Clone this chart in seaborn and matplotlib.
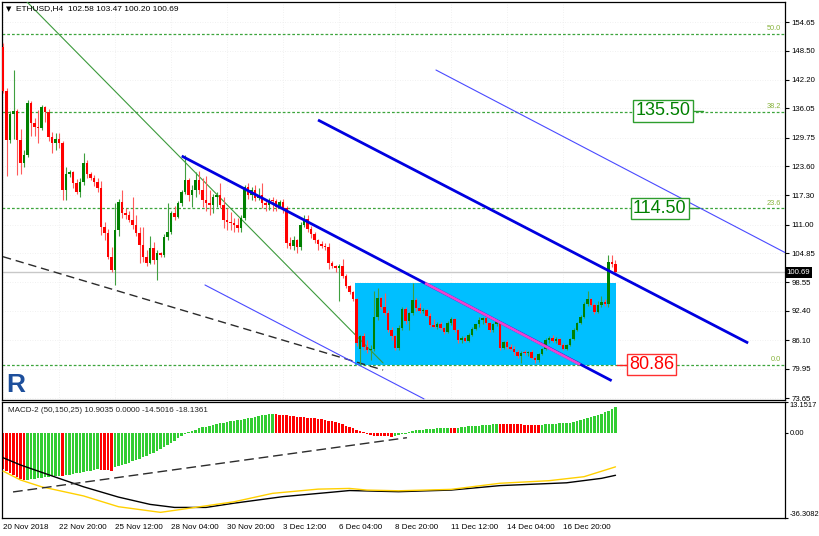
import numpy as np
import pandas as pd
import matplotlib
matplotlib.use("Agg")
import matplotlib.pyplot as plt
from matplotlib.patches import Rectangle
import seaborn as sns

W, H = 820, 536

# ETHUSD H4 candles, first bar 20 Nov 2018 04:00
opens = [
    149.3, 139.8, 129.3, 134.8, 135.5, 129.3, 124.2, 126.0, 137.1, 132.8,
    132.0, 131.8, 136.4, 135.3, 129.9, 128.5, 129.5, 128.6, 118.5, 122.0,
    122.3, 120.0, 118.1, 120.2, 124.2, 122.0, 121.0, 120.2, 118.8, 110.5,
    109.1, 104.1, 101.2, 109.8, 115.9, 113.4, 113.0, 112.0, 110.9, 109.1,
    106.6, 104.1, 102.7, 105.9, 103.4, 104.8, 104.4, 108.4, 109.5, 113.4,
    112.7, 115.6, 118.1, 120.6, 117.4, 118.5, 120.6, 118.5, 116.3, 115.6,
    115.2, 117.0, 117.4, 115.2, 112.0, 111.6, 111.3, 110.9, 110.2, 112.4,
    119.2, 117.4, 118.5, 116.7, 117.3, 115.6, 115.2, 116.3, 116.0, 114.9,
    115.9, 114.5, 107.0, 106.5, 107.6, 106.2, 111.0, 112.2, 110.0, 109.0,
    107.6, 106.8, 106.5, 106.2, 102.7, 102.0, 101.6, 102.0, 99.9, 97.8,
    96.5, 95.0, 84.3, 86.9, 84.7, 83.9, 84.3, 91.2, 95.1, 93.3,
    91.9, 88.3, 86.9, 84.4, 88.7, 92.9, 90.3, 91.9, 94.8, 93.0,
    92.3, 92.6, 91.4, 89.4, 89.0, 89.7, 88.7, 87.9, 89.8, 90.6,
    88.3, 86.1, 86.6, 86.0, 87.3, 88.6, 89.5, 90.4, 90.8, 89.8,
    88.2, 89.5, 90.0, 84.5, 85.7, 84.6, 84.3, 83.5, 82.6, 83.4,
    83.3, 83.6, 82.3, 81.8, 83.2, 84.2, 86.2, 86.6, 86.0, 86.3,
    85.1, 84.3, 85.0, 86.4, 88.4, 89.8, 91.2, 93.9, 94.9, 93.7,
    92.2, 93.7, 94.4, 93.8, 103.0, 102.58]
highs = [
    150.2, 140.5, 135.5, 144.3, 136.0, 131.5, 127.0, 137.8, 137.6, 134.0,
    135.7, 136.8, 136.6, 136.0, 131.0, 130.7, 130.8, 129.0, 123.5, 122.8,
    122.6, 120.8, 121.0, 126.4, 125.0, 122.4, 121.7, 121.0, 120.5, 111.6,
    110.0, 106.2, 115.6, 116.6, 118.4, 114.5, 114.0, 117.0, 113.0, 110.5,
    110.5, 105.5, 108.5, 107.3, 105.5, 105.2, 109.0, 115.6, 114.0, 115.0,
    116.0, 118.5, 126.0, 121.0, 119.5, 122.4, 122.5, 121.0, 121.5, 118.5,
    117.5, 118.1, 120.0, 117.0, 114.5, 113.8, 112.5, 112.4, 113.1, 119.5,
    120.0, 119.2, 119.5, 118.8, 119.9, 116.5, 116.8, 117.0, 116.5, 116.4,
    116.5, 115.0, 108.4, 108.5, 108.0, 111.5, 113.0, 113.0, 110.8, 109.4,
    108.0, 107.4, 107.0, 107.0, 103.2, 102.4, 102.5, 103.5, 100.3, 98.0,
    96.8, 95.3, 87.3, 87.6, 86.2, 85.0, 96.6, 97.3, 95.5, 96.2,
    92.6, 89.0, 87.2, 89.4, 93.3, 93.2, 92.2, 98.4, 95.2, 94.1,
    93.0, 92.9, 91.9, 90.6, 90.1, 90.0, 88.9, 90.2, 91.0, 90.9,
    88.6, 86.9, 87.1, 87.6, 88.9, 89.7, 91.2, 91.0, 91.2, 90.0,
    89.8, 90.3, 90.3, 85.9, 86.2, 85.2, 84.8, 84.0, 83.8, 84.0,
    83.8, 83.9, 82.8, 83.4, 84.4, 86.6, 87.0, 87.2, 86.7, 86.5,
    85.4, 85.2, 86.6, 88.7, 90.1, 91.5, 94.3, 96.6, 95.3, 94.1,
    94.5, 95.6, 95.0, 104.5, 104.5, 103.47]
lows = [
    139.3, 121.5, 128.5, 129.5, 121.7, 122.0, 123.5, 125.5, 130.0, 130.0,
    128.5, 131.3, 133.2, 129.0, 126.4, 127.0, 127.6, 116.3, 116.3, 121.3,
    118.8, 117.5, 117.0, 119.5, 121.0, 120.6, 119.3, 118.0, 108.8, 107.7,
    103.5, 100.8, 98.0, 108.5, 112.5, 112.2, 111.5, 110.0, 108.6, 102.7,
    103.0, 102.0, 102.5, 102.5, 99.1, 104.0, 104.0, 107.7, 109.0, 112.0,
    112.5, 115.0, 117.5, 116.0, 114.8, 117.0, 117.5, 114.9, 114.0, 113.1,
    113.5, 114.8, 114.5, 110.2, 109.8, 109.8, 109.5, 109.5, 109.5, 112.0,
    116.5, 116.3, 116.0, 116.3, 114.5, 114.0, 114.2, 114.0, 114.0, 114.5,
    113.5, 106.0, 105.8, 105.5, 104.8, 105.6, 110.5, 109.5, 108.2, 107.0,
    105.5, 106.0, 105.6, 101.5, 101.6, 100.8, 94.5, 99.5, 97.3, 96.0,
    94.5, 84.8, 80.86, 84.0, 83.4, 81.8, 83.8, 90.5, 92.8, 91.5,
    87.9, 86.1, 84.0, 84.0, 88.2, 89.7, 88.3, 91.5, 92.5, 91.9,
    91.9, 91.0, 88.9, 88.7, 88.6, 88.3, 87.5, 87.6, 89.3, 87.9,
    85.4, 85.5, 85.7, 85.8, 87.0, 88.2, 89.0, 89.6, 89.4, 87.8,
    87.9, 89.1, 84.0, 84.1, 84.3, 84.0, 83.0, 82.2, 81.1, 82.9,
    82.8, 82.0, 81.1, 81.5, 82.9, 83.9, 85.6, 85.8, 85.4, 84.9,
    84.0, 84.0, 84.8, 86.1, 88.0, 89.5, 90.8, 93.5, 93.4, 91.8,
    91.9, 93.3, 93.5, 93.3, 101.8, 100.20]
closes = [
    139.8, 129.3, 134.8, 135.5, 129.3, 124.2, 126.0, 137.1, 132.8, 132.0,
    131.8, 136.4, 135.3, 129.9, 128.5, 129.5, 128.6, 118.5, 122.0, 122.3,
    120.0, 118.1, 120.2, 124.2, 122.0, 121.0, 120.2, 118.8, 110.5, 109.1,
    104.1, 101.2, 109.8, 115.9, 113.4, 113.0, 112.0, 110.9, 109.1, 106.6,
    104.1, 102.7, 105.9, 103.4, 104.8, 104.4, 108.4, 109.5, 113.4, 112.7,
    115.6, 118.1, 120.6, 117.4, 118.5, 120.6, 118.5, 116.3, 115.6, 115.2,
    117.0, 117.4, 115.2, 112.0, 111.6, 111.3, 110.9, 110.2, 112.4, 119.2,
    117.4, 118.5, 116.7, 117.3, 115.6, 115.2, 116.3, 116.0, 114.9, 115.9,
    114.5, 107.0, 106.5, 107.6, 106.2, 111.0, 112.2, 110.0, 109.0, 107.6,
    106.8, 106.5, 106.2, 102.7, 102.0, 101.6, 102.0, 99.9, 97.8, 96.5,
    95.0, 85.4, 86.9, 84.7, 83.9, 84.3, 91.2, 95.1, 93.3, 91.9,
    88.3, 86.9, 84.4, 88.7, 92.9, 90.3, 91.9, 94.8, 93.0, 92.3,
    92.6, 91.4, 89.4, 89.0, 89.7, 88.7, 87.9, 89.8, 90.6, 88.3,
    86.1, 86.6, 86.0, 87.3, 88.6, 89.5, 90.4, 90.8, 89.8, 88.2,
    89.5, 90.0, 84.5, 85.7, 84.6, 84.3, 83.5, 82.6, 83.4, 83.3,
    83.6, 82.3, 81.8, 83.2, 84.2, 86.2, 86.6, 86.0, 86.3, 85.1,
    84.3, 85.0, 86.4, 88.4, 89.8, 91.2, 93.9, 94.9, 93.7, 92.2,
    93.7, 94.4, 93.8, 103.0, 102.58, 100.69]

# MACD-2 (50,150,25)
macd_hist = [
    -15.6, -16.4, -17.2, -18.0, -18.8, -19.5, -20.2, -20.0, -19.8, -19.6,
    -19.4, -19.2, -19.0, -18.8, -18.6, -18.4, -18.2, -18.3, -18.0, -17.8,
    -17.6, -17.3, -17.0, -16.7, -16.4, -16.1, -15.8, -15.5, -15.7, -15.9,
    -16.0, -16.1, -14.6, -14.1, -13.7, -13.2, -12.7, -12.2, -11.6, -11.0,
    -10.4, -9.8, -9.2, -8.5, -7.8, -7.0, -6.2, -5.3, -4.3, -3.3,
    -2.2, -1.2, -0.5, 0.2, 0.8, 1.4, 1.9, 2.3, 2.7, 3.0,
    3.4, 3.7, 4.0, 4.3, 4.6, 4.9, 5.1, 5.3, 5.6, 5.9,
    6.2, 6.5, 6.8, 7.1, 7.4, 7.7, 8.0, 8.2, 8.0, 7.8,
    7.6, 7.4, 7.2, 7.0, 6.8, 6.7, 6.6, 6.5, 6.35, 6.2,
    6.0, 5.8, 5.5, 5.2, 4.9, 4.5, 4.1, 3.6, 3.1, 2.6,
    2.0, 1.4, 0.8, 0.2, -0.5, -1.0, -1.3, -1.4, -1.45, -1.5,
    -1.55, -1.6, -1.2, -0.8, -0.5, -0.3, 0.2, 0.6, 1.0, 1.2,
    1.4, 1.6, 1.7, 1.8, 1.9, 2.0, 2.05, 2.1, 2.05, 2.0,
    2.2, 2.4, 2.6, 2.8, 2.9, 3.0, 3.1, 3.3, 3.4, 3.5,
    3.7, 3.8, 3.78, 3.75, 3.72, 3.68, 3.64, 3.6, 3.56, 3.52,
    3.48, 3.44, 3.4, 3.36, 3.45, 3.6, 3.7, 3.8, 3.95, 4.1,
    4.2, 4.3, 4.4, 4.5, 4.9, 5.3, 5.9, 6.4, 6.8, 7.3,
    7.7, 8.2, 8.8, 9.4, 10.2, 10.9]
macd_idx = [0, 5, 11, 23, 33, 45, 53, 66, 77, 90, 99, 104, 113, 128, 142, 156, 166, 175]
macd_val = [-16.3, -20.1, -23.0, -26.9, -31.5, -33.9, -32.2, -29.4, -25.8, -24.0,
            -23.7, -24.4, -24.7, -24.1, -21.5, -20.4, -18.7, -14.5]
signal_idx = [0, 5, 16, 23, 33, 42, 49, 58, 66, 80, 94, 99, 113, 128, 142, 161, 171, 175]
signal_val = [-10.6, -13.7, -19.4, -23.0, -27.4, -30.5, -31.8, -31.8, -30.0, -27.2,
              -25.3, -24.6, -25.1, -24.4, -22.5, -21.3, -19.4, -18.1]
macd_readout = [10.9035, 0.0000, -14.5016, -18.1361]

time_ticks = [0, 16, 32, 48, 64, 80, 96, 112, 128, 144, 160]
time_labels = ["20 Nov 2018", "22 Nov 20:00", "25 Nov 12:00", "28 Nov 04:00",
               "30 Nov 20:00", "3 Dec 12:00", "6 Dec 04:00", "8 Dec 20:00",
               "11 Dec 12:00", "14 Dec 04:00", "16 Dec 20:00"]
price_ticks = [154.65, 148.50, 142.20, 136.05, 129.75, 123.60, 117.30,
               111.00, 104.85, 98.55, 92.40, 86.10, 79.95, 73.65]
macd_ticks = [13.1517, 0.0, -36.3082]
macd_tick_labels = ["13.1517", "0.00", "-36.3082"]

# drawn objects: (bar index, price)
channel_main = [(51.06, 125.78), (173.9, 77.38)]
channel_upper = [(90.0, 133.54), (212.9, 85.5)]
channel_far_upper = [(123.7, 144.31), (223.4, 105.0)]
channel_far_lower = [(57.7, 98.0), (120.3, 73.45)]
pink_segment = [(120.6, 98.4), (164.9, 80.86)]
green_line = [(6.3, 159.4), (108.6, 81.19)]
dashed_trend = [(0.0, 104.09), (108.6, 79.68)]
macd_trend = [(2.86, -25.2), (115.4, -2.07)]
range_box = (101, 175, 80.86, 98.4)
fibo_levels = [152.13, 135.31, 114.5, 80.86]
fibo_labels = ["50.0", "38.2", "23.6", "0.0"]
targets = [(188.6, 135.50), (187.6, 114.50)]
stop_level = (185.3, 80.86)

sns.set_theme(style="white")
plt.rcParams["font.family"] = ["Liberation Sans", "DejaVu Sans"]

bars = pd.DataFrame({"open": opens, "high": highs, "low": lows, "close": closes})
bars["i"] = np.arange(len(bars))
up = bars["close"] >= bars["open"]

fig = plt.figure(figsize=(W / 100, H / 100), dpi=100)
ax = fig.add_axes([2 / W, 1 - 400 / H, 783 / W, 398 / H])
axm = fig.add_axes([2 / W, 1 - 518 / H, 783 / W, 116 / H])


def seg(a, pts, **kw):
    a.plot([pts[0][0], pts[1][0]], [pts[0][1], pts[1][1]], **kw)


# faint grid
for t in time_ticks:
    ax.axvline(t, color="#ececec", lw=0.6, ls=(0, (1, 2)), zorder=0)
for p in price_ticks:
    ax.axhline(p, color="#ececec", lw=0.6, ls=(0, (1, 2)), zorder=0)

x0, x1, b0, b1 = range_box
ax.add_patch(Rectangle((x0 - 0.3, b0), x1 - x0 + 0.5, b1 - b0, color="#00bfff", lw=0, zorder=1))

for lvl, lab in zip(fibo_levels, fibo_labels):
    ax.axhline(lvl, color="#3da53d", lw=0.9, ls=(0, (2.2, 1.6)), zorder=2)
    ax.text(222.4, lvl + 0.4, lab, ha="right", va="bottom", fontsize=5.3, color="#86b23a", zorder=2)

ax.axhline(closes[-1], color="#c8c8c8", lw=1.0, zorder=2)

seg(ax, dashed_trend, color="#2b2b2b", lw=1.0, ls=(0, (6, 3.5)), zorder=3)
seg(ax, green_line, color="#3c9a3c", lw=0.8, zorder=3)
seg(ax, channel_far_lower, color="#4a4aff", lw=0.8, zorder=3)
seg(ax, channel_far_upper, color="#4a4aff", lw=0.8, zorder=3)

# candles
wick_col = np.where(up, "#3f9f3f", "#ff5a5a")
body_col = np.where(up, "#008000", "#ff0000")
ax.vlines(bars["i"], bars["low"], bars["high"], colors=wick_col, lw=0.8, zorder=4)
body_lo = np.minimum(bars["open"], bars["close"])
body_h = (bars["close"] - bars["open"]).abs().clip(lower=0.2)
ax.bar(bars["i"], body_h, bottom=body_lo, width=0.6, color=body_col, lw=0, zorder=5)

seg(ax, channel_main, color="#0000e0", lw=2.0, zorder=6, solid_capstyle="butt")
seg(ax, channel_upper, color="#0000e0", lw=2.0, zorder=6, solid_capstyle="butt")
seg(ax, pink_segment, color="#ee44cc", lw=2.0, zorder=7, solid_capstyle="butt")

# price labels
for xi, price in targets:
    ax.plot([xi + 8, xi + 11.3], [price, price], color="#2e9e2e", lw=1.0, zorder=8)
    ax.text(xi, price, f"{price:.2f}", ha="center", va="center", fontsize=13, color="#008000", zorder=9,
            bbox=dict(boxstyle="square,pad=0.12", fc="white", ec="#2e9e2e", lw=1.0))
sx, sp = stop_level
ax.plot([175.4, sx - 6], [sp, sp], color="#ff2020", lw=1.0, zorder=8)
ax.text(sx, sp, f"{sp:.2f}", ha="center", va="center", fontsize=13, color="#ff0000", zorder=9,
        bbox=dict(boxstyle="square,pad=0.12", fc="white", ec="#ff3030", lw=1.0))

ax.set_xlim(-0.29, 223.43)
ax.set_ylim(73.22, 158.96)
ax.set_xticks([])
ax.yaxis.tick_right()
ax.set_yticks(price_ticks)
ax.set_yticklabels([f"{p:.2f}" for p in price_ticks], fontsize=5.6)
ax.tick_params(axis="y", direction="out", length=3, width=0.8, pad=1.5, colors="black")
for s in ax.spines.values():
    s.set_color("black")
    s.set_linewidth(0.9)

# current price tag
ax.text(1.002, closes[-1], f"{closes[-1]:.2f}", transform=ax.get_yaxis_transform(), ha="left", va="center",
        fontsize=5.6, color="white", zorder=10, clip_on=False,
        bbox=dict(boxstyle="square,pad=0.25", fc="black", ec="black", lw=0))

last = bars.iloc[-1]
fig.text(6 / W, 1 - 9 / H, "\u25bc", fontsize=5, va="center", ha="left", color="black",
         family=["DejaVu Sans"])
fig.text(16 / W, 1 - 9 / H,
         f"ETHUSD,H4  {last['open']:.2f} {last['high']:.2f} {last['low']:.2f} {last['close']:.2f}",
         fontsize=6, va="center", ha="left", color="black")

# logo
fig.text(6 / W, 1 - 385 / H, "R", fontsize=19, fontweight="bold", color="#1d4f9c", va="center", ha="left")

# MACD panel
hist = np.array(macd_hist)
rising = np.diff(hist, prepend=hist[0] + 1) > 0
axm.bar(np.arange(len(hist)), hist, width=0.78, color=np.where(rising, "#32cd32", "#ff0000"), lw=0, zorder=2)
sns.lineplot(x=signal_idx, y=signal_val, ax=axm, color="black", lw=1.0, zorder=3)
sns.lineplot(x=macd_idx, y=macd_val, ax=axm, color="#ffd000", lw=1.0, zorder=4)
seg(axm, macd_trend, color="#2b2b2b", lw=1.0, ls=(0, (7, 3.5)), zorder=5)

axm.set_xlim(-0.29, 223.43)
axm.set_ylim(-36.3082, 13.1517)
axm.yaxis.tick_right()
axm.set_yticks(macd_ticks)
axm.set_yticklabels(macd_tick_labels, fontsize=5.4)
labs = axm.get_yticklabels()
labs[0].set_va("top")
labs[-1].set_va("bottom")
axm.set_xticks(time_ticks)
axm.set_xticklabels(time_labels, fontsize=5.8, ha="left")
axm.tick_params(axis="x", direction="out", length=3, width=0.8, pad=1.5, colors="black")
axm.tick_params(axis="y", direction="out", length=2.5, width=0.8, pad=0.8, colors="black")
axm.set_xlabel("")
axm.set_ylabel("")
for s in axm.spines.values():
    s.set_color("black")
    s.set_linewidth(0.9)

axm.text(6 / 783, 0.93, "MACD-2 (50,150,25) " + " ".join(f"{v:.4f}" for v in macd_readout),
         transform=axm.transAxes, fontsize=5.8, va="center", ha="left", color="#222222")

fig.savefig("out.png", dpi=100)
